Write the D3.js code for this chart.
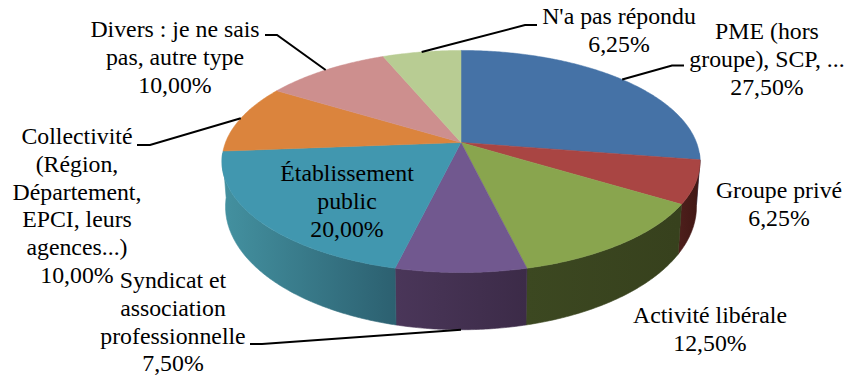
<!DOCTYPE html>
<html>
<head>
<meta charset="utf-8">
<style>
html, body { margin: 0; padding: 0; background: #fff; }
svg { display: block; }
text { font-family: "Liberation Serif", serif; font-size: 23.8px; fill: #000; }
</style>
<script src="https://cdn.jsdelivr.net/npm/d3@7"></script>
</head>
<body>
<script>
// data
var categories = ["PME (hors groupe), SCP, ...", "Groupe privé", "Activité libérale",
  "Syndicat et association professionnelle", "Établissement public",
  "Collectivité (Région, Département, EPCI, leurs agences...)",
  "Divers : je ne sais pas, autre type", "N'a pas répondu"];
var values = [27.5, 6.25, 12.5, 7.5, 20, 10, 10, 6.25];
var valueLabels = ["27,50%", "6,25%", "12,50%", "7,50%", "20,00%", "10,00%", "10,00%", "6,25%"];

var topColors = ["#4572a6", "#a94543", "#89a54e", "#71588f", "#4197af", "#db843d", "#cd8f8e", "#b8cc93"];
var wallLight = ["#4572a6", "#4e1f1c", "#3c4821", "#4a3659", "#43909f", "#db843d", "#cd8f8e", "#b8cc93"];
var wallDark = ["#4572a6", "#421815", "#37411d", "#3c2b48", "#2c6070", "#db843d", "#cd8f8e", "#b8cc93"];

// label lines, and where each block sits
var labelLines = [
  ["PME (hors", "groupe), SCP, ...", "27,50%"],
  ["Groupe privé", "6,25%"],
  ["Activité libérale", "12,50%"],
  ["Syndicat et", "association", "professionnelle", "7,50%"],
  ["Établissement", "public", "20,00%"],
  ["Collectivité", "(Région,", "Département,", "EPCI, leurs", "agences...)", "10,00%"],
  ["Divers : je ne sais", "pas, autre type", "10,00%"],
  ["N'a pas répondu", "6,25%"]
];
var labelX = [767, 779, 710, 173, 347, 77, 175, 619];
var labelTop = [39, 198, 323, 288, 181, 144, 37, 24];
var lineGap = 27.8;

// leader line elbows, slice end comes from the projection
var leaders = [
  { slice: 0, pts: [[684, 65.5], [672, 65.5]] },
  { slice: 3, pts: [[250, 344], [262, 344]], low: true },
  { slice: 5, pts: [[137, 145], [150, 145]] },
  { slice: 6, pts: [[265, 35], [277, 35]] },
  { slice: 7, pts: [[537, 25], [525, 25]] }
];

var width = 847, height = 379;

var svg = d3.select("body").append("svg")
  .attr("width", width)
  .attr("height", height);

var defs = svg.append("defs");

var pie = d3.pie().sort(null).value(function(d) { return d; });
var arcs = pie(values);

// perspective of the tilted disc
var persp = 0.171;
var topDisc = {
  x: d3.scaleLinear().domain([-1, 1]).range([461 - 235.5, 461 + 235.5]),
  y: d3.scaleLinear().domain([-1, 1]).range([142.5 - 107.8, 142.5 + 107.8])
};
var lowDisc = {
  x: d3.scaleLinear().domain([-1, 1]).range([461 - 232, 461 + 232]),
  y: d3.scaleLinear().domain([-1, 1]).range([185.6 - 119.5, 185.6 + 119.5])
};

function project(disc, angle, r) {
  var u = r * Math.sin(angle), v = -r * Math.cos(angle);
  var k = 1 / (1 - persp * v);
  return [disc.x(u * k), disc.y(v * k)];
}

function rim(disc, a0, a1) {
  var n = Math.max(2, Math.ceil(Math.abs(a1 - a0) / 0.01));
  return d3.range(n + 1).map(function(i) {
    return project(disc, a0 + (a1 - a0) * i / n, 1);
  });
}

var line = d3.line();

// side walls, only the front half of the disc shows
var frontStart = Math.PI / 2 + 0.1, frontEnd = 1.5 * Math.PI - 0.1;

arcs.forEach(function(d, i) {
  var a0 = Math.max(d.startAngle, frontStart), a1 = Math.min(d.endAngle, frontEnd);
  if (a1 <= a0) return;
  var g = defs.append("linearGradient").attr("id", "wall" + i)
    .attr("gradientUnits", "userSpaceOnUse");
  var p0 = project(lowDisc, a0, 1), p1 = project(lowDisc, a1, 1);
  g.attr("x1", p0[0]).attr("y1", 0).attr("x2", p1[0]).attr("y2", 0);
  g.append("stop").attr("offset", 0).attr("stop-color", wallDark[i]);
  g.append("stop").attr("offset", 1).attr("stop-color", wallLight[i]);
  svg.append("path")
    .attr("d", line(rim(topDisc, a0, a1).concat(rim(lowDisc, a1, a0))) + "Z")
    .attr("fill", "url(#wall" + i + ")")
    .attr("stroke", "url(#wall" + i + ")")
    .attr("stroke-width", 0.6);
});

// top of the pie
arcs.forEach(function(d, i) {
  svg.append("path")
    .attr("d", line([project(topDisc, 0, 0)].concat(rim(topDisc, d.startAngle, d.endAngle))) + "Z")
    .attr("fill", topColors[i])
    .attr("stroke", topColors[i])
    .attr("stroke-width", 0.5);
});

// leader lines
leaders.forEach(function(l) {
  var d = arcs[l.slice];
  var end = project(l.low ? lowDisc : topDisc, (d.startAngle + d.endAngle) / 2, 1);
  svg.append("path")
    .attr("d", line(l.pts.concat([end])))
    .attr("fill", "none")
    .attr("stroke", "#000")
    .attr("stroke-width", 2);
});

// labels
labelLines.forEach(function(lines, i) {
  var t = svg.append("text")
    .attr("text-anchor", "middle");
  lines.forEach(function(s, j) {
    t.append("tspan")
      .attr("x", labelX[i])
      .attr("y", labelTop[i] + j * lineGap)
      .text(s);
  });
});
</script>
</body>
</html>
